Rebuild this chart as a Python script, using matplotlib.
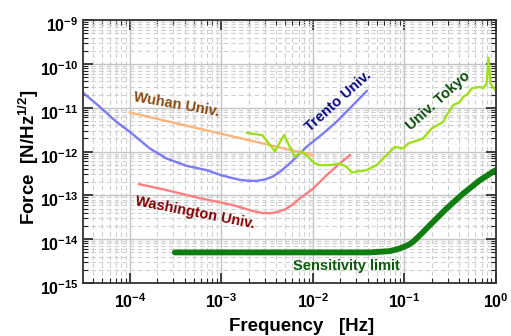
import numpy as np
import matplotlib.pyplot as plt
from matplotlib.ticker import LogLocator, FixedLocator, FixedFormatter, NullFormatter
from matplotlib.transforms import ScaledTranslation

plt.rcParams['font.family'] = ['Liberation Sans', 'DejaVu Sans']
plt.rcParams['font.weight'] = 'bold'
plt.rcParams['mathtext.fontset'] = 'custom'
plt.rcParams['mathtext.rm'] = 'Liberation Sans:bold'
plt.rcParams['mathtext.bf'] = 'Liberation Sans:bold'
plt.rcParams['mathtext.default'] = 'bf'

# Trento Univ. (blue)
trento_f = [3.06e-5, 4.7e-5, 7.13e-5, 1.0e-4, 1.65e-4, 2.51e-4, 4.16e-4, 6.89e-4,
            9.88e-4, 1.3e-3, 1.6e-3, 2.0e-3, 2.43e-3, 3.0e-3, 3.69e-3, 4.5e-3, 5.61e-3,
            8.55e-3, 1.3e-2, 1.82e-2, 3.91e-2]
trento_v = [2.23e-11, 1.05e-11, 4.77e-12, 2.82e-12, 1.18e-12, 6.96e-13, 4.72e-13, 3.76e-13,
            2.89e-13, 2.5e-13, 2.25e-13, 2.15e-13, 2.14e-13, 2.3e-13, 2.7e-13, 3.6e-13, 5.35e-13,
            1.28e-12, 2.59e-12, 4.77e-12, 2.43e-11]

# Wuhan Univ. (orange)
wuhan_f = [1.0e-4, 1.0e-2]
wuhan_v = [7.8e-12, 8.3e-13]

# Washington Univ. (red)
wash_f = [1.26e-4, 2.51e-4, 5.8e-4, 1.35e-3, 2.2e-3, 2.8e-3, 3.4e-3, 4.1e-3, 5.0e-3,
          6.2e-3, 7.22e-3, 1.01e-2, 1.42e-2, 1.88e-2, 2.55e-2]
wash_v = [1.8e-13, 1.32e-13, 8.63e-14, 5.97e-14, 4.4e-14, 3.95e-14, 3.9e-14, 4.15e-14, 4.8e-14,
          6.4e-14, 8.49e-14, 1.42e-13, 2.89e-13, 4.9e-13, 8.28e-13]

# Univ. Tokyo (lime)
tokyo_f = [1.91e-3, 2.82e-3, 3.85e-3, 4.85e-3, 6.37e-3, 7.6e-3, 8.9e-3, 1.05e-2, 1.2e-2,
           1.54e-2, 1.98e-2, 2.34e-2, 2.66e-2, 3.88e-2, 4.99e-2, 7.9e-2, 9.75e-2, 0.111,
           0.161, 0.2, 0.267, 0.291, 0.344, 0.407, 0.442, 0.501, 0.546, 0.673, 0.731,
           0.797, 0.834, 0.877, 1.0]
tokyo_v = [2.67e-12, 2.36e-12, 1.02e-12, 2.36e-12, 7.57e-13, 1.02e-12, 7.45e-13, 5.35e-13, 4.9e-13,
           4.9e-13, 5.35e-13, 4.5e-13, 3.33e-13, 3.76e-13, 4.9e-13, 1.28e-12, 1.18e-12, 1.53e-12,
           1.99e-12, 3.37e-12, 4.76e-12, 6.78e-12, 1.15e-11, 1.36e-11, 1.77e-11, 2.12e-11, 2.76e-11,
           3.0e-11, 2.76e-11, 3.59e-11, 1.39e-10, 3.59e-11, 2.45e-11]

# Sensitivity limit (dark green)
sens_f = [3.1e-4, 4.2e-2, 6.98e-2, 8.97e-2, 0.11, 0.125, 0.15, 0.191, 0.291, 0.442, 0.673, 1.0]
sens_v = [4.97e-15, 4.97e-15, 5.32e-15, 6.14e-15, 7.3e-15, 8.68e-15, 1.25e-14, 2.09e-14, 5.02e-14,
          1.1e-13, 2.22e-13, 3.76e-13]

xticks = [1e-4, 1e-3, 1e-2, 1e-1, 1e0]
xtick_labels = ['$10^{-4}$', '$10^{-3}$', '$10^{-2}$', '$10^{-1}$', '$10^{0}$']
yticks = [1e-15, 1e-14, 1e-13, 1e-12, 1e-11, 1e-10, 1e-9]
ytick_labels = ['$10^{-15}$', '$10^{-14}$', '$10^{-13}$', '$10^{-12}$',
                '$10^{-11}$', '$10^{-10}$', '$10^{-9}$']

fig = plt.figure(figsize=(5.11, 3.36), dpi=100)
ax = fig.add_axes([0.162, 0.158, 0.808, 0.782])
ax.set_xscale('log')
ax.set_yscale('log')
ax.set_xlim(3.06e-5, 1.0)
ax.set_ylim(1e-15, 1e-9)

ax.plot(trento_f, trento_v, color='#7b7bf5', lw=1.7)
ax.plot(wuhan_f, wuhan_v, color='#fdb57a', lw=1.7)
ax.plot(wash_f, wash_v, color='#ff7f7f', lw=1.7)
ax.plot(tokyo_f, tokyo_v, color='#9ee01a', lw=1.7)
ax.plot(sens_f, sens_v, color='#0f7d0f', lw=4.2, solid_capstyle='round')

# grid
ax.grid(True, which='major', color='#c4c4c4', lw=1.0, ls='-')
ax.grid(True, which='minor', color='#cfcfcf', lw=0.8, ls=(0, (4, 3)))
ax.set_axisbelow(True)

ax.xaxis.set_major_locator(FixedLocator(xticks))
ax.xaxis.set_major_formatter(FixedFormatter(xtick_labels))
ax.yaxis.set_major_locator(FixedLocator(yticks))
ax.yaxis.set_major_formatter(FixedFormatter(ytick_labels))
ax.xaxis.set_minor_locator(LogLocator(base=10, subs=np.arange(2, 10), numticks=100))
ax.yaxis.set_minor_locator(LogLocator(base=10, subs=np.arange(2, 10), numticks=100))
ax.xaxis.set_minor_formatter(NullFormatter())
ax.yaxis.set_minor_formatter(NullFormatter())
ax.tick_params(which='both', direction='in', top=True, right=True, colors='#222222')
ax.tick_params(which='major', length=7, width=1.2, labelsize=11.5, labelcolor='black')
ax.tick_params(axis='x', which='major', pad=7)
ax.tick_params(axis='y', which='major', pad=3)
ax.tick_params(which='minor', length=3.5, width=0.8)
for s in ax.spines.values():
    s.set_color('#333333')
    s.set_linewidth(1.3)

# y tick labels sit a little below their ticks
for lab in ax.get_yticklabels():
    lab.set_transform(lab.get_transform() + ScaledTranslation(0, -3 / 72, fig.dpi_scale_trans))

ax.set_xlabel('Frequency   [Hz]', fontsize=13.5, fontweight='bold')
ax.set_ylabel('Force  [N/Hz$^{1/2}$]', fontsize=13.5, fontweight='bold')
ax.xaxis.set_label_coords(0.53, -0.135)
ax.yaxis.set_label_coords(-0.10, 0.478)

# curve labels
kw = dict(ha='center', va='center', rotation_mode='anchor', fontweight='bold', fontsize=10.5)
ax.text(3.26e-4, 1.15e-11, 'Wuhan Univ.', color='#8a4a10', rotation=-10, **kw)
ax.text(1.88e-2, 1.42e-11, 'Trento Univ.', color='#0a0a80', rotation=42, **kw)
ax.text(0.234, 1.42e-11, 'Univ. Tokyo', color='#0b4d0b', rotation=42, **kw)
ax.text(5.15e-4, 3.93e-14, 'Washington Univ.', color='#800000', rotation=-11, **kw)
ax.text(2.36e-2, 2.42e-15, 'Sensitivity limit', color='#0a5c0a', rotation=0, **kw)

fig.savefig('out.png', dpi=100)
